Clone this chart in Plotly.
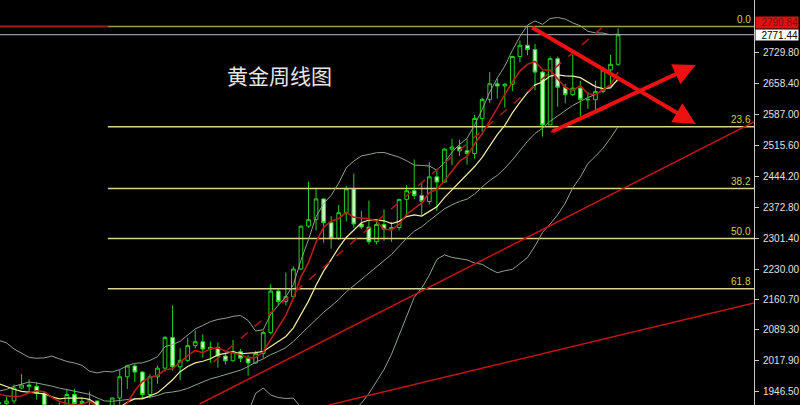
import numpy as np
import pandas as pd
import plotly.graph_objects as go

# ---------------- data (weekly gold) ----------------
week_start = "2023-06-26"
opens = [1921, 1919, 1925, 1955, 1962, 1959, 1943, 1914, 1889, 1914,
         1940, 1919, 1924, 1925, 1848, 1833, 1932, 1981, 2006, 1992,
         1940, 1981, 2001, 2072, 2004, 2019, 2053, 2062, 2045, 2049,
         2029, 2018, 2039, 2024, 2013, 2035, 2083, 2179, 2155, 2166,
         2230, 2329, 2344, 2392, 2337, 2301, 2360, 2415, 2334, 2327,
         2293, 2333, 2322, 2326, 2391, 2411, 2400, 2386, 2443, 2431,
         2507, 2512, 2503, 2497, 2578, 2622, 2658, 2653, 2657, 2721,
         2747, 2737, 2685, 2563, 2716, 2650, 2633, 2648, 2622, 2621,
         2640, 2690, 2703]
highs = [1925, 1935, 1963, 1987, 1975, 1968, 1948, 1917, 1922, 1953,
         1953, 1933, 1947, 1926, 1852, 1933, 1997, 2009, 2010, 1993,
         1987, 2007, 2075, 2146, 2047, 2071, 2088, 2079, 2062, 2060,
         2037, 2066, 2045, 2031, 2041, 2088, 2195, 2185, 2222, 2236,
         2330, 2432, 2418, 2393, 2352, 2378, 2422, 2450, 2364, 2388,
         2342, 2368, 2339, 2392, 2424, 2483, 2431, 2477, 2460, 2509,
         2531, 2529, 2530, 2586, 2626, 2685, 2670, 2660, 2722, 2758,
         2790, 2750, 2688, 2721, 2721, 2658, 2726, 2665, 2639, 2665,
         2697, 2725, 2786]
lows = [1893, 1902, 1919, 1952, 1942, 1928, 1910, 1885, 1884, 1913,
        1915, 1901, 1913, 1846, 1810, 1845, 1908, 1953, 1969, 1932,
        1931, 1965, 1993, 1995, 1973, 2016, 2047, 2025, 2013, 2002,
        2010, 2016, 2015, 1984, 2011, 2024, 2079, 2146, 2146, 2165,
        2228, 2325, 2319, 2291, 2277, 2297, 2340, 2325, 2322, 2287,
        2287, 2295, 2293, 2319, 2353, 2392, 2353, 2379, 2364, 2430,
        2470, 2491, 2471, 2485, 2547, 2614, 2624, 2603, 2641, 2708,
        2724, 2643, 2536, 2563, 2605, 2613, 2630, 2583, 2600, 2597,
        2636, 2656, 2699]
closes = [1919, 1925, 1955, 1962, 1959, 1943, 1914, 1889, 1914, 1940,
          1919, 1924, 1925, 1848, 1833, 1932, 1981, 2006, 1992, 1940,
          1981, 2001, 2072, 2004, 2019, 2053, 2062, 2045, 2049, 2029,
          2018, 2039, 2024, 2013, 2035, 2083, 2179, 2155, 2166, 2230,
          2329, 2344, 2392, 2337, 2301, 2360, 2415, 2334, 2327, 2293,
          2333, 2322, 2326, 2391, 2411, 2400, 2386, 2443, 2431, 2507,
          2512, 2503, 2497, 2578, 2622, 2658, 2653, 2657, 2721, 2747,
          2737, 2685, 2563, 2716, 2650, 2633, 2648, 2622, 2621, 2640,
          2690, 2703, 2771]
# closes of the weeks before the first visible candle (indicator warm-up)
prior_closes = [1865, 1842, 1811, 1856, 1868, 1989, 1978, 1969, 2007, 2004,
                1983, 1990, 2017, 2011, 1977, 1946, 1948, 1961, 1958, 1921]

fib_high = 2790.1
fib_low = 1810.4
fib_levels = [0.0, 23.6, 38.2, 50.0, 61.8]
fib_start = "2023-10-05"

last_price = 2771.44
line_price = 2790.84

tick_vals = [2729.80, 2658.40, 2587.00, 2515.60, 2444.20, 2372.80,
             2301.40, 2230.00, 2160.70, 2089.30, 2017.90, 1946.50]
tick_text = ["2729.80", "2658.40", "2587.00", "2515.60", "2444.20",
             "2372.80", "2301.40", "2230.00", "2160.70", "2089.30", "2017.90",
             "1946.50"]

title_text = "黄金周线图"

# trend lines: (date, price) end points
support_long = [("2023-12-29", 1918.1), ("2025-05-26", 2569.7)]
support_low = [("2024-04-27", 1915.8), ("2025-05-26", 2151.5)]
channel_dashed = [("2024-01-11", 2015.4), ("2025-01-05", 2787.8)]
arrow_down = [("2024-10-31", 2790.0), ("2025-04-02", 2565.1)]
arrow_up_thin = [("2024-11-19", 2546.6), ("2025-01-11", 2604.3)]
arrow_up = [("2024-11-19", 2546.6), ("2025-04-02", 2701.4)]

x_range = ["2023-06-27", "2025-05-26"]
y_range = [1915.8, 2851.6]

# ---------------- derived ----------------
dates = pd.date_range(week_start, periods=len(closes), freq="7D")
n = len(closes)
all_close = pd.Series(prior_closes + closes, dtype=float)
ma5 = all_close.rolling(5).mean().iloc[-n:].values
ma10 = all_close.rolling(10).mean().iloc[-n:].values
mid = all_close.rolling(20).mean()
sd = all_close.rolling(20).std(ddof=0)
bb_mid = mid.iloc[-n:].values
bb_up = (mid + 2 * sd).iloc[-n:].values
bb_lo = (mid - 2 * sd).iloc[-n:].values

fig = go.Figure()

GREEN = "#1fd41f"
BAND = "#8fa08f"

# fib lines
for lv in fib_levels:
    p = fib_high - (fib_high - fib_low) * lv / 100.0
    col = "#9c9c58" if lv == 0 else "#d9d38f"
    fig.add_trace(go.Scatter(x=[fib_start, x_range[1]], y=[p, p], mode="lines",
                             line=dict(color=col, width=1.5), hoverinfo="skip",
                             showlegend=False))
    fig.add_annotation(x=1.0, xref="paper", xshift=-1, y=p, yref="y",
                       text=f"{lv:.1f}", showarrow=False, xanchor="right",
                       yanchor="bottom", font=dict(family="Liberation Sans",
                                                   size=10, color="#cfcf5a"))
# red horizontal part at the top-left
fig.add_trace(go.Scatter(x=["2023-06-01", fib_start], y=[fib_high, fib_high],
                         mode="lines", line=dict(color="#a61c1c", width=2),
                         hoverinfo="skip", showlegend=False))
# bid line
fig.add_trace(go.Scatter(x=["2023-06-01", x_range[1]], y=[last_price, last_price],
                         mode="lines", line=dict(color="#b9b9cc", width=1),
                         hoverinfo="skip", showlegend=False))

# bollinger bands
for arr in (bb_up, bb_mid, bb_lo):
    fig.add_trace(go.Scatter(x=dates, y=arr, mode="lines",
                             line=dict(color=BAND, width=1), hoverinfo="skip",
                             showlegend=False))
# moving averages
fig.add_trace(go.Scatter(x=dates, y=ma10, mode="lines",
                         line=dict(color="#f2eea0", width=1.2), hoverinfo="skip",
                         showlegend=False))
fig.add_trace(go.Scatter(x=dates, y=ma5, mode="lines",
                         line=dict(color="#b81c1c", width=1.6), hoverinfo="skip",
                         showlegend=False))

# candles
fig.add_trace(go.Candlestick(
    x=dates, open=opens, high=highs, low=lows, close=closes,
    increasing=dict(line=dict(color=GREEN, width=1), fillcolor="#000000"),
    decreasing=dict(line=dict(color=GREEN, width=1), fillcolor="#c9f5c2"),
    whiskerwidth=0, showlegend=False, hoverinfo="skip"))

# trend lines
def seg(pts, color, width, dash="solid"):
    fig.add_trace(go.Scatter(x=[p[0] for p in pts], y=[p[1] for p in pts],
                             mode="lines", line=dict(color=color, width=width, dash=dash),
                             hoverinfo="skip", showlegend=False))

seg(support_long, "#c41414", 1.5)
seg(support_low, "#c41414", 1.5)
seg(channel_dashed, "#b01818", 1.5, "dash")
seg(arrow_up_thin, "#d01010", 2)

for pts in (arrow_down, arrow_up):
    fig.add_annotation(x=pts[1][0], y=pts[1][1], xref="x", yref="y",
                       ax=pts[0][0], ay=pts[0][1], axref="x", ayref="y",
                       text="", showarrow=True, arrowhead=2, arrowsize=1.1,
                       arrowwidth=4, arrowcolor="#ee1111")

# title
fig.add_annotation(x=280 / 756, y=1 - 58 / 405, xref="paper", yref="paper",
                   text=title_text, showarrow=False,
                   font=dict(family="Noto Sans CJK SC", size=21, color="#e6e6e6"))

# price boxes on the axis
fig.add_annotation(x=1.0, xref="paper", xshift=1, y=line_price, yref="y",
                   yshift=4, width=42, height=11, align="right",
                   text=f"{line_price:.2f}", showarrow=False, xanchor="left",
                   bgcolor="#e01010", borderpad=0,
                   font=dict(family="Liberation Sans", size=10, color="#7a1010"))
fig.add_annotation(x=1.0, xref="paper", xshift=1, y=last_price, yref="y",
                   width=42, height=10, align="right",
                   text=f"{last_price:.2f}", showarrow=False, xanchor="left",
                   bgcolor="#ffffff", borderpad=0,
                   font=dict(family="Liberation Sans", size=10, color="#000000"))

fig.update_layout(
    width=800, height=405,
    margin=dict(l=0, r=44, t=0, b=0),
    paper_bgcolor="#000000", plot_bgcolor="#000000",
    showlegend=False,
    xaxis=dict(type="date", range=x_range, visible=False,
               rangeslider=dict(visible=False), fixedrange=True),
    yaxis=dict(side="right", range=y_range, showgrid=False, zeroline=False,
               showline=True, linecolor="#c8c8c8", linewidth=1,
               ticks="outside", ticklen=4, tickcolor="#c8c8c8",
               ticklabelstandoff=2,
               tickvals=tick_vals, ticktext=tick_text,
               tickfont=dict(family="Liberation Sans", size=10, color="#e0e0e0"),
               fixedrange=True),
)

fig.write_html("out.html", config={"displayModeBar": False},
               post_script="document.body.style.margin='0';document.body.style.padding='0';document.body.style.overflow='hidden';document.body.style.background='#000';")
